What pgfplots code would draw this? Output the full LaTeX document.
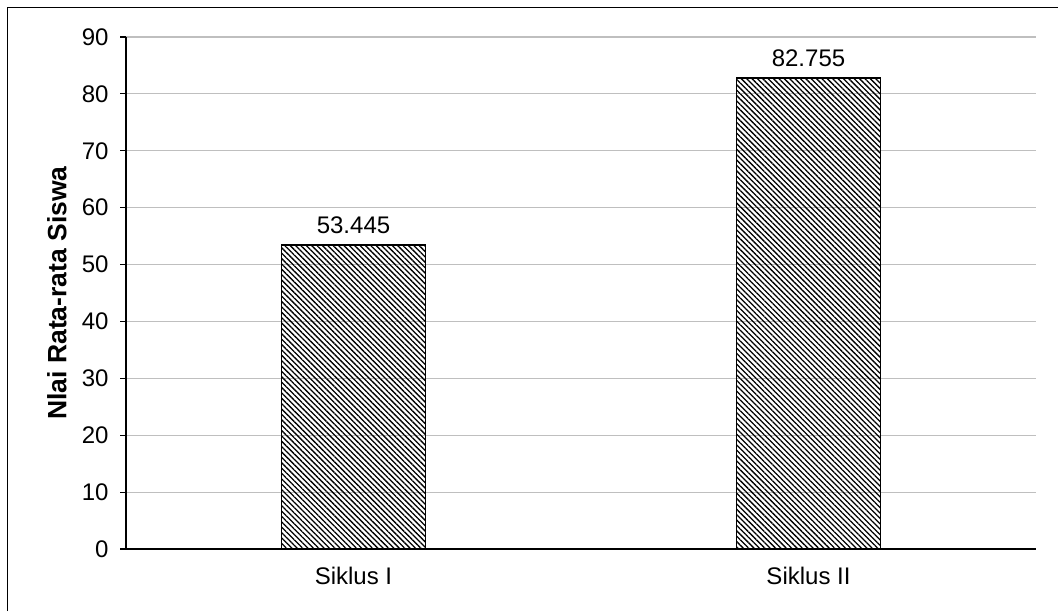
\documentclass[border=0pt]{standalone}
\usepackage{pgfplots}
\pgfplotsset{compat=1.18}
\usetikzlibrary{patterns.meta}
\usepackage{fontspec}
\setmainfont{Liberation Sans}
\definecolor{gridgray}{HTML}{BFBFBF}
\begin{document}
\begin{tikzpicture}
  % page area and chart frame
  \useasboundingbox (0,0) rectangle (1058pt,611pt);
  \draw[line width=1.5pt] (7.5pt,0pt) -- (7.5pt,603.5pt) -- (1058pt,603.5pt);
  \begin{axis}[
    at={(126pt,62pt)}, anchor=south west,
    scale only axis, width=910pt, height=512pt,
    xmin=-0.5, xmax=1.5, ymin=0, ymax=90,
    axis x line*=bottom, axis y line*=left,
    axis line style={line width=1.2pt, -},
    xtick={0,1}, xticklabels={Siklus I, Siklus II},
    xtick style={draw=none},
    ytick={0,10,...,90},
    ytick style={line width=1.2pt, black},
    tick align=outside, major tick length=6pt,
    ymajorgrids, grid style={gridgray, line width=1.2pt},
    /pgf/number format/assume math mode=true,
    tick label style={font=\fontsize{24}{28}\selectfont},
    yticklabel style={xshift=-8pt},
    xticklabel style={yshift=-9pt},
    ylabel={Nlai Rata-rata Siswa},
    ylabel style={font=\fontsize{26.5}{30}\bfseries\selectfont,
      at={(axis description cs:0,0.5)}, anchor=center, yshift=69pt},
    ybar, bar width=144pt,
    nodes near coords,
    nodes near coords style={font=\fontsize{24}{28}\selectfont, yshift=7pt,
      /pgf/number format/.cd, fixed, precision=3, assume math mode=true},
  ]
    \addplot[draw=black, line width=1.5pt,
      pattern={Lines[angle=-45, distance=3.8pt, line width=1.3pt]}]
      coordinates {(0,53.445) (1,82.755)};
  \end{axis}
\end{tikzpicture}
\end{document}
